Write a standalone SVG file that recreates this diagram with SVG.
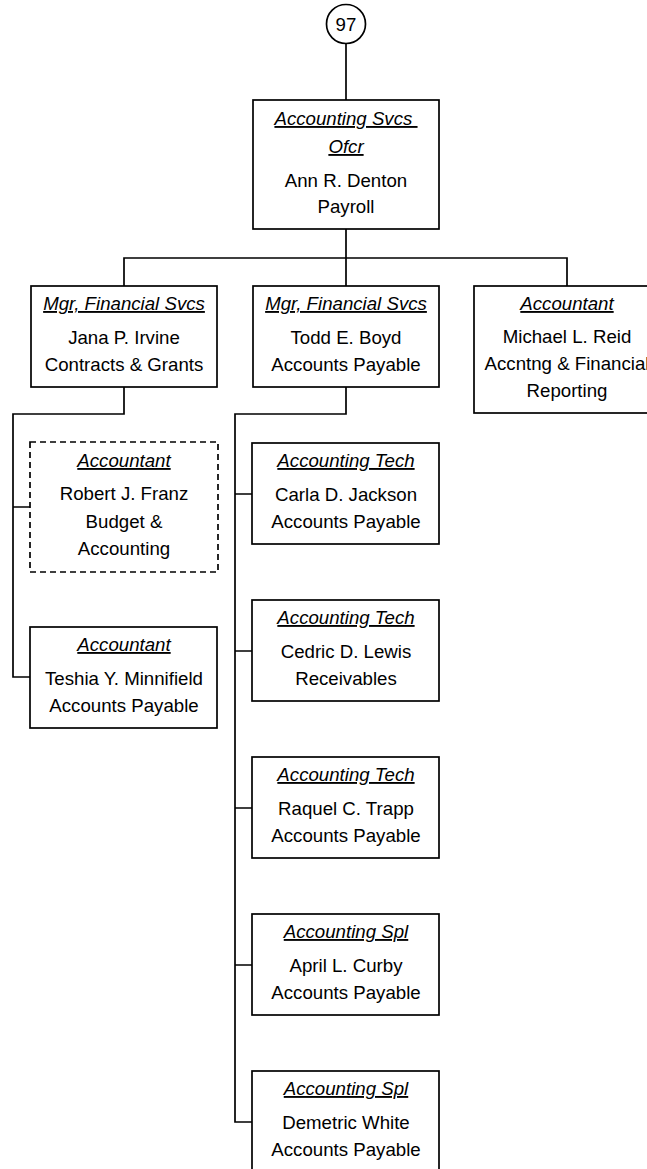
<svg xmlns="http://www.w3.org/2000/svg" width="647" height="1169" viewBox="0 0 647 1169">
<style>
.box{fill:#fff;stroke:#000;stroke-width:1.7}
.dash{fill:#fff;stroke:#000;stroke-width:1.7;stroke-dasharray:6 4}
.ln{fill:none;stroke:#000;stroke-width:1.7}
text{font-family:"Liberation Sans",Arial,sans-serif;font-size:18.67px;fill:#000;text-anchor:middle}
.t{font-style:italic;text-decoration:underline;white-space:pre}
</style>
<rect width="647" height="1169" fill="#fff"/>
<g id="connectors">
<path class="ln" d="M346,43.5 V100"/>
<path class="ln" d="M346,229 V258 M124,286 V258 H567 V286 M346,258 V286"/>
<path class="ln" d="M124,387 V414 H13 V677 H30 M13,507 H30"/>
<path class="ln" d="M346,387 V414 H235 V1122 H252 M235,494 H252 M235,651 H252 M235,808 H252 M235,965 H252"/>
</g>
<g id="n97">
<circle class="box" cx="346" cy="24" r="19.5"/>
<text x="346" y="31">97</text>
</g>
<g id="denton">
<rect class="box" x="253" y="100" width="186" height="129"/>
<text class="t" x="346" y="125">Accounting Svcs </text>
<text class="t" x="346" y="153">Ofcr</text>
<text x="346" y="187">Ann R. Denton</text>
<text x="346" y="213">Payroll</text>
</g>
<g id="irvine">
<rect class="box" x="31" y="286" width="186" height="101"/>
<text class="t" x="124" y="310">Mgr, Financial Svcs</text>
<text x="124" y="344">Jana P. Irvine</text>
<text x="124" y="371">Contracts &amp; Grants</text>
</g>
<g id="boyd">
<rect class="box" x="253" y="286" width="186" height="101"/>
<text class="t" x="346" y="310">Mgr, Financial Svcs</text>
<text x="346" y="344">Todd E. Boyd</text>
<text x="346" y="371">Accounts Payable</text>
</g>
<g id="reid">
<rect class="box" x="474" y="286" width="186" height="127"/>
<text class="t" x="567" y="310">Accountant</text>
<text x="567" y="343">Michael L. Reid</text>
<text x="567" y="370">Accntng &amp; Financial</text>
<text x="567" y="397">Reporting</text>
</g>
<g id="franz">
<rect class="dash" x="30" y="442" width="188" height="130"/>
<text class="t" x="124" y="467">Accountant</text>
<text x="124" y="500">Robert J. Franz</text>
<text x="124" y="528">Budget &amp;</text>
<text x="124" y="555">Accounting</text>
</g>
<g id="minnifield">
<rect class="box" x="30" y="627" width="187" height="101"/>
<text class="t" x="124" y="651">Accountant</text>
<text x="124" y="685">Teshia Y. Minnifield</text>
<text x="124" y="712">Accounts Payable</text>
</g>
<g id="jackson">
<rect class="box" x="252" y="443" width="187" height="101"/>
<text class="t" x="346" y="467">Accounting Tech</text>
<text x="346" y="501">Carla D. Jackson</text>
<text x="346" y="528">Accounts Payable</text>
</g>
<g id="lewis">
<rect class="box" x="252" y="600" width="187" height="101"/>
<text class="t" x="346" y="624">Accounting Tech</text>
<text x="346" y="658">Cedric D. Lewis</text>
<text x="346" y="685">Receivables</text>
</g>
<g id="trapp">
<rect class="box" x="252" y="757" width="187" height="101"/>
<text class="t" x="346" y="781">Accounting Tech</text>
<text x="346" y="815">Raquel C. Trapp</text>
<text x="346" y="842">Accounts Payable</text>
</g>
<g id="curby">
<rect class="box" x="252" y="914" width="187" height="101"/>
<text class="t" x="346" y="938">Accounting Spl</text>
<text x="346" y="972">April L. Curby</text>
<text x="346" y="999">Accounts Payable</text>
</g>
<g id="white">
<rect class="box" x="252" y="1071" width="187" height="101"/>
<text class="t" x="346" y="1095">Accounting Spl</text>
<text x="346" y="1129">Demetric White</text>
<text x="346" y="1156">Accounts Payable</text>
</g>
</svg>
